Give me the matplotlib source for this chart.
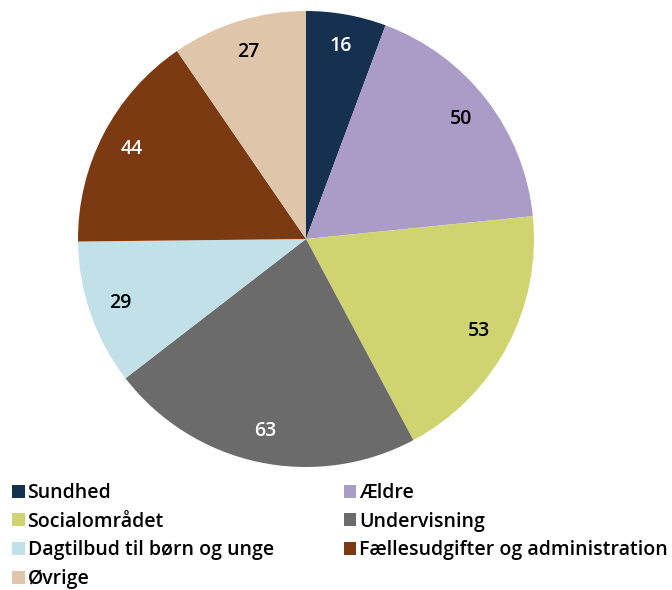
import matplotlib
matplotlib.use("Agg")
import matplotlib.pyplot as plt
from matplotlib.patches import Patch

categories = ["Sundhed", "Ældre", "Socialområdet", "Undervisning",
              "Dagtilbud til børn og unge", "Fællesudgifter og administration", "Øvrige"]
values = [16, 50, 53, 63, 29, 44, 27]
colors = ["#16314f", "#ab9bc7", "#d0d470", "#6b6b6b", "#c1e0e8", "#7c3a13", "#dfc5a9"]
label_colors = ["white", "black", "black", "white", "black", "white", "black"]

plt.rcParams['font.family'] = ['Open Sans', 'DejaVu Sans']

W, H = 672, 590
cx, cy, r = 306, 239, 228
fig = plt.figure(figsize=(W / 100, H / 100), dpi=100)
ax = fig.add_axes([(cx - r) / W, (H - cy - r) / H, 2 * r / W, 2 * r / H])
wedges, texts = ax.pie(values, colors=colors, startangle=90, counterclock=False,
                       labels=[str(v) for v in values], labeldistance=0.86,
                       wedgeprops=dict(linewidth=0))
for t, c in zip(texts, label_colors):
    t.set_color(c)
    t.set_fontsize(14)
    t.set_fontweight('semibold')
    t.set_ha('center')
    t.set_va('center')
ax.set_xlim(-1, 1)
ax.set_ylim(-1, 1)
ax.set_aspect('equal')
ax.axis('off')

order = [0, 2, 4, 6, 1, 3, 5]
handles = [Patch(facecolor=colors[i], edgecolor='none') for i in order]
labels = [categories[i] for i in order]
fig.legend(handles, labels, ncol=2, loc='upper left', bbox_to_anchor=(12 / W, 1 - 483 / H),
           frameon=False, prop=dict(size=14, weight='semibold'),
           handlelength=0.65, handleheight=0.65,
           handletextpad=0.15, columnspacing=3.6, labelspacing=0.45, borderaxespad=0,
           borderpad=0)
fig.savefig("out.png", dpi=100)
